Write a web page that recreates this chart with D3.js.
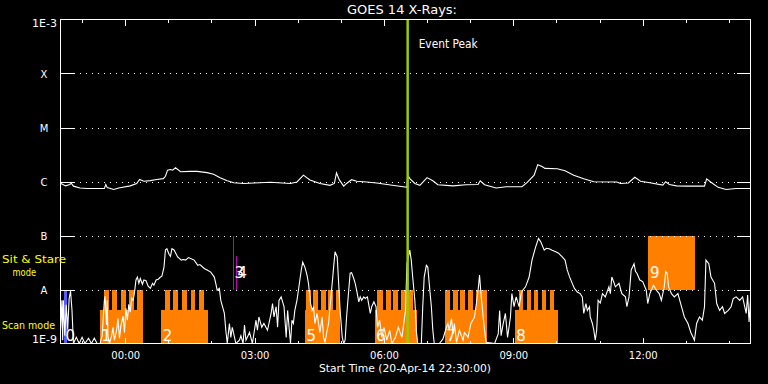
<!DOCTYPE html>
<html><head><meta charset="utf-8">
<script src="https://cdn.jsdelivr.net/npm/d3@7"></script>
<style>html,body{margin:0;padding:0;background:#000;} svg{display:block;}</style>
</head><body>
<svg id="c" width="768" height="384"></svg>
<script>
// ---------------- DATA ----------------
const startTime = Date.UTC(2014, 3, 20, 22, 30);   // 20-Apr-14 22:30:00
const durationMin = 960;
const eventPeakMin = 483;
const titleText = "GOES 14 X-Rays:";
const xAxisTitle = "Start Time (20-Apr-14 22:30:00)";
const levelLabels = ["1E-3", "X", "M", "C", "B", "A", "1E-9"];
const levelValues = [1e-3, 1e-4, 1e-5, 1e-6, 1e-7, 1e-8, 1e-9];
const gridLevels = [1e-4, 1e-5, 1e-6, 1e-7, 1e-8];

// long channel (1-8 A), minutes since start / W m^-2
const longT = [0,7,13,15,18,27,37,61,63,65,74,81,97,106,110,116,125,134,143,146,
  149,153,156,160,167,180,190,204,213,222,232,241,255,269,292,320,329,338,347,361,
  375,381,384,388,394,398,405,412,426,440,459,477,482,483,486,493,500,510,518,525,
  546,564,581,584,590,606,620,642,649,659,664,670,674,691,702,714,728,742,774,779,
  790,799,807,820,838,842,847,857,871,896,899,905,915,926,940,960];
const longF = [9.3e-7,8.3e-7,8.8e-7,9.3e-7,8.2e-7,7.6e-7,7.4e-7,7.4e-7,8.8e-7,7.7e-7,
  7.1e-7,7.6e-7,8.3e-7,9.2e-7,1.09e-6,1.01e-6,1.04e-6,1.09e-6,1.13e-6,1.25e-6,
  1.62e-6,1.67e-6,1.62e-6,1.80e-6,1.52e-6,1.54e-6,1.54e-6,1.46e-6,1.36e-6,1.17e-6,
  1.03e-6,9.5e-7,9.2e-7,9.4e-7,9.7e-7,9.2e-7,9.8e-7,1.31e-6,1.07e-6,9.2e-7,
  8.5e-7,9.2e-7,1.44e-6,1.07e-6,8.2e-7,9.2e-7,1.08e-6,1.01e-6,9.8e-7,9.4e-7,
  8.6e-7,8.0e-7,7.8e-7,1.31e-6,1.13e-6,9.2e-7,8.5e-7,1.18e-6,1.03e-6,8.7e-7,
  8.3e-7,8.7e-7,8.8e-7,1.03e-6,8.7e-7,7.6e-7,8.0e-7,8.0e-7,9.5e-7,1.31e-6,
  2.05e-6,1.9e-6,1.75e-6,1.72e-6,1.58e-6,1.31e-6,1.12e-6,9.9e-7,9.8e-7,9.2e-7,
  9.4e-7,1.2e-6,1.01e-6,9.5e-7,8.6e-7,9.9e-7,8.8e-7,8.3e-7,8.2e-7,8.2e-7,
  1.12e-6,9.7e-7,7.8e-7,7.1e-7,7.4e-7,7.4e-7];

// short channel (0.5-4 A)
const shortT = [0,2,3,4,6,8,10,12,14,16,18,22,26,30,34,39,43,47,51,55,
  58,61,62,64,65,66,68,71,73,75,78,80,82,84,87,89,91,93,95,97,
  99,101,103,105,107,109,111,114,116,119,122,125,128,130,133,136,139,141,144,146,
  148,151,153,155,158,163,168,171,174,178,181,186,191,194,200,204,209,214,216,218,
  221,223,226,228,230,232,235,237,239,244,249,251,254,256,258,263,267,272,274,276,
  280,283,288,293,295,297,300,302,304,307,309,311,314,316,318,320,322,324,326,329,
  332,335,337,340,343,345,348,350,352,354,357,359,361,364,366,368,371,373,375,378,
  380,382,385,387,389,392,394,396,398,401,403,405,408,410,412,415,417,419,422,424,
  427,431,433,436,439,441,444,447,450,454,458,461,466,470,475,480,482,486,488,490,
  493,495,497,502,504,506,509,511,513,516,518,520,527,532,537,539,541,544,546,548,
  551,555,560,562,567,571,576,578,581,583,585,588,590,592,604,609,611,613,616,619,
  622,626,628,631,634,638,641,643,647,652,656,661,665,668,673,676,680,684,689,693,
  698,702,705,708,712,715,719,723,726,728,731,733,736,737,740,742,744,746,748,751,
  754,758,763,765,767,770,772,777,781,786,788,791,794,798,800,802,806,810,815,817,
  820,825,829,833,836,840,842,844,846,850,854,859,864,868,873,877,882,885,889,893,
  896,898,902,905,910,913,917,921,924,929,933,936,940,945,949,954,956,958,960];
const shortF = [1.76e-9,6.3e-9,1.15e-9,6.3e-9,1.4e-9,5.2e-9,1.8e-9,6.8e-9,9.3e-9,4.1e-9,
  1.0e-9,1.3e-9,1.0e-9,1.3e-9,1.0e-9,1.25e-9,1.0e-9,1.25e-9,1.0e-9,1.0e-9,
  1.4e-9,6.3e-9,7.5e-9,2.2e-9,6.3e-9,1.35e-9,1.0e-9,1.35e-9,2.0e-9,1.15e-9,
  1.76e-9,2.9e-9,1.25e-9,2.1e-9,3.2e-9,1.6e-9,4.5e-9,2.7e-9,5.3e-9,3.8e-9,
  6.9e-9,6.3e-9,8.9e-9,1.5e-8,1.7e-8,1.3e-8,1.6e-8,1.25e-8,1.5e-8,1.45e-8,
  1.15e-8,1.05e-8,1.3e-8,1.2e-8,1.5e-8,1.55e-8,1.7e-8,1.75e-8,2.6e-8,5.4e-8,
  5.7e-8,4.5e-8,4.1e-8,5.7e-8,5.4e-8,4.0e-8,3.5e-8,3.6e-8,3.5e-8,3.9e-8,
  3.75e-8,3.5e-8,2.8e-8,2.9e-8,2.45e-8,2.3e-8,2.1e-8,1.7e-8,1.3e-8,9.7e-9,
  1.05e-8,6.3e-9,4.5e-9,3.6e-9,1.76e-9,1.0e-9,2.35e-9,1.3e-9,2.0e-9,1.0e-9,
  1.15e-9,1.4e-9,1.0e-9,2.2e-9,1.15e-9,1.6e-9,1.0e-9,2.7e-9,1.76e-9,3.1e-9,
  2.0e-9,2.35e-9,1.76e-9,3.6e-9,5.5e-9,3.1e-9,4.8e-9,2.0e-9,6.3e-9,7.3e-9,
  5.9e-9,4.8e-9,1.3e-9,4.1e-9,2.0e-9,1.0e-9,2.7e-9,2.35e-9,4.1e-9,6.3e-9,
  1.2e-8,2.3e-8,3.2e-8,2.6e-8,1.85e-8,1.3e-8,5.5e-9,4.1e-9,4.8e-9,2.35e-9,
  3.6e-9,2.35e-9,1.6e-9,3.1e-9,1.3e-9,1.05e-9,1.76e-9,2.35e-9,4.8e-9,1.3e-8,
  2.6e-8,5.0e-8,4.0e-8,1.3e-8,4.1e-9,1.3e-9,1.0e-9,1.15e-9,3.1e-9,9.7e-9,
  2.0e-8,2.05e-8,1.6e-8,1.3e-8,9.7e-9,5.9e-9,7.3e-9,6.3e-9,7.3e-9,6.8e-9,
  7.3e-9,3.6e-9,4.8e-9,5.9e-9,4.8e-9,2.0e-9,2.7e-9,1.3e-9,2.0e-9,1.15e-9,
  1.76e-9,1.0e-9,1.3e-9,2.0e-9,1.3e-9,4.1e-9,3.0e-8,5.35e-8,3.5e-8,1.7e-8,
  6.3e-9,1.76e-9,1.0e-9,1.0e-9,4.8e-9,1.7e-8,2.8e-8,2.6e-8,1.3e-8,4.8e-9,
  1.76e-9,1.0e-9,1.0e-9,1.2e-9,2.0e-9,2.35e-9,1.76e-9,2.9e-9,1.5e-9,2.35e-9,
  1.05e-9,1.76e-9,1.15e-9,1.6e-9,1.3e-9,2.35e-9,3.1e-9,4.8e-9,9.7e-9,1.85e-8,
  8.4e-9,3.1e-9,1.76e-9,1.05e-9,1.0e-9,1.5e-9,4.1e-9,1.4e-9,2.35e-9,3.6e-9,
  1.3e-9,3.1e-9,8.4e-9,4.8e-9,7.3e-9,4.8e-9,8.4e-9,9.7e-9,1.12e-8,1.7e-8,
  3.5e-8,6.1e-8,8.8e-8,7.7e-8,5.35e-8,5.8e-8,5.7e-8,5.35e-8,5.0e-8,4.7e-8,
  4.0e-8,3.5e-8,2.3e-8,1.75e-8,1.3e-8,1.05e-8,9.0e-9,8.4e-9,7.3e-9,3.6e-9,
  5.5e-9,4.1e-9,4.8e-9,3.1e-9,2.35e-9,1.76e-9,1.15e-9,1.76e-9,6.3e-9,5.6e-9,
  8.4e-9,7.3e-9,1.12e-8,8.4e-9,1.7e-8,1.35e-8,1.12e-8,1.3e-8,8.4e-9,7.3e-9,
  4.8e-9,7.3e-9,2.3e-8,3.0e-8,2.15e-8,2.0e-8,1.5e-8,1.4e-8,9.7e-9,5.5e-9,
  8.4e-9,1.2e-8,9.7e-9,8.4e-9,6.3e-9,1.12e-8,2.15e-8,2.0e-8,1.12e-8,8.4e-9,
  7.3e-9,8.4e-9,4.8e-9,3.1e-9,2.35e-9,1.6e-9,1.15e-9,2.35e-9,3.1e-9,2.7e-9,
  4.8e-9,3.5e-8,3.0e-8,1.7e-8,1.3e-8,5.5e-9,4.1e-9,4.8e-9,3.6e-9,4.1e-9,
  4.8e-9,6.8e-9,7.3e-9,6.3e-9,7.3e-9,3.6e-9,7.9e-9,2.5e-9,6.3e-9];

// IRIS observations (minutes since start)
const obsId    = [0, 1, 2, 3, 4, 5, 6, 7, 8, 9];
const obsStart = [5, 55, 140, 240, 244, 340, 437, 535, 632, 818];
const obsEnd   = [9, 115, 205, 241, 245, 389, 496, 594, 692, 883];
const obsMode  = ["scan","scan","scan","sit","sit","scan","scan","scan","scan","sit"];
const obsKind  = ["cal","raster","raster","line","lineShort","raster","raster","raster","raster","stare"];
// raster steps: [obs, start, end]
const rasterSteps = [
  [1,61,68],[1,72,79],[1,84,91],[1,95,102],[1,107,115],
  [2,146,152],[2,157,164],[2,169,176],[2,181,187],[2,192,199],
  [5,341,348],[5,351,358],[5,362,369],[5,372,379],[5,383,389],
  [6,441,449],[6,453,460],[6,463,470],[6,474,482],[6,484,491],
  [7,535,542],[7,546,553],[7,556,563],[7,567,574],[7,578,594],
  [8,638,644],[8,649,655],[8,659,665],[8,670,676],[8,681,687]
];
const modeLabels = [["Sit & Stare", "mode"], ["Scan mode"]];

// ---------------- DRAWING ----------------
const W = 768, H = 384;
const L = 60.5, R = 750.5, T = 19.5, B = 343.5;
const FONT = "DejaVu Sans, Liberation Sans, sans-serif";
const colors = {cal: "#5a5aff", raster: "#ff8000", line: "#c000c0", lineShort: "#c000c0", stare: "#ff8000"};
const bandRange = {scan: [1e-9, 1e-8], sit: [1e-8, 1e-7]};
const baseFrac = 0.62;

const toDate = m => new Date(startTime + m * 60000);
const x = d3.scaleUtc().domain([toDate(0), toDate(durationMin)]).range([L, R]);
const y = d3.scaleLog().domain([1e-9, 1e-3]).range([B, T]);

const svg = d3.select("#c");
svg.append("rect").attr("width", W).attr("height", H).attr("fill", "#000");

const defs = svg.append("defs");
defs.append("clipPath").attr("id", "plot").append("rect")
  .attr("x", L).attr("y", T).attr("width", R - L).attr("height", B - T);

// observation bars
const gObs = svg.append("g").attr("shape-rendering", "crispEdges");
const partTop = band => Math.pow(10, Math.log10(bandRange[band][0]) + baseFrac);
obsId.forEach((id, i) => {
  const band = obsMode[i], kind = obsKind[i];
  const x0 = Math.round(x(toDate(obsStart[i])));
  const x1 = Math.max(x0 + 1, Math.round(x(toDate(obsEnd[i]))));
  const top = (kind === "raster" || kind === "lineShort") ? partTop(band) : bandRange[band][1];
  gObs.append("rect").attr("x", x0).attr("width", x1 - x0)
    .attr("y", y(top)).attr("height", y(bandRange[band][0]) - y(top))
    .attr("fill", colors[kind]);
});
rasterSteps.forEach(([id, s, e]) => {
  const band = obsMode[id];
  const x0 = Math.round(x(toDate(s))), x1 = Math.round(x(toDate(e)));
  gObs.append("rect").attr("x", x0).attr("width", x1 - x0)
    .attr("y", y(bandRange[band][1])).attr("height", y(bandRange[band][0]) - y(bandRange[band][1]))
    .attr("fill", colors.raster);
});

// grid lines
const gGrid = svg.append("g").attr("shape-rendering", "crispEdges");
gridLevels.forEach(v => {
  const yy = Math.round(y(v)) + 0.5;
  gGrid.append("line").attr("x1", L).attr("x2", R).attr("y1", yy).attr("y2", yy)
    .attr("stroke", "#fff").attr("stroke-width", 1)
    .attr("stroke-dasharray", "1 5").attr("stroke-dashoffset", 5);
  gGrid.append("line").attr("x1", L).attr("x2", L + 14).attr("y1", yy).attr("y2", yy).attr("stroke", "#fff");
  gGrid.append("line").attr("x1", R - 14).attr("x2", R).attr("y1", yy).attr("y2", yy).attr("stroke", "#fff");
});

// curves
const line = d3.line().x(d => x(toDate(d[0]))).y(d => y(Math.max(d[1], 1e-9)));
const gCurves = svg.append("g").attr("clip-path", "url(#plot)");
gCurves.append("path").datum(longT.map((t, i) => [t, longF[i]]))
  .attr("d", line).attr("fill", "none").attr("stroke", "#fff").attr("stroke-width", 1.1);
gCurves.append("path").datum(shortT.map((t, i) => [t, shortF[i]]))
  .attr("d", line).attr("fill", "none").attr("stroke", "#fff").attr("stroke-width", 1.1);

// observation numbers
obsId.forEach((id, i) => {
  const band = obsMode[i];
  const base = band === "scan" ? y(bandRange.scan[0]) - 3 : y(bandRange.sit[0]) - 11.5;
  svg.append("text").attr("x", x(toDate(obsStart[i])) + 1.5).attr("y", base)
    .attr("fill", "#fff").attr("font-family", FONT).attr("font-size", 15)
    .text(id);
});

// event peak
const xp = x(toDate(eventPeakMin));
svg.append("line").attr("x1", xp).attr("x2", xp).attr("y1", T).attr("y2", B)
  .attr("stroke", "#99cc00").attr("stroke-width", 2.5);
svg.append("text").attr("x", xp + 11).attr("y", 48).attr("fill", "#fff")
  .attr("font-family", FONT).attr("font-size", 12).attr("textLength", 59)
  .attr("lengthAdjust", "spacingAndGlyphs").text("Event Peak");

// frame
svg.append("rect").attr("x", L).attr("y", T).attr("width", R - L).attr("height", B - T)
  .attr("fill", "none").attr("stroke", "#fff").attr("shape-rendering", "crispEdges");

// time axes
const fmt = d3.utcFormat("%H:%M");
const major = d3.utcHour.every(3), minor = d3.utcHour.every(1);
function axisStyle(g) {
  g.select(".domain").remove();
  g.selectAll("line").attr("stroke", "#fff").attr("shape-rendering", "crispEdges");
  g.selectAll("text").attr("fill", "#fff").attr("font-family", FONT).attr("font-size", 10);
}
svg.append("g").attr("transform", `translate(0,${B})`)
  .call(d3.axisBottom(x).ticks(minor).tickSize(-3).tickFormat("")).call(axisStyle);
svg.append("g").attr("transform", `translate(0,${B})`)
  .call(d3.axisBottom(x).ticks(major).tickSize(-6).tickPadding(8).tickFormat(fmt)).call(axisStyle);
svg.append("g").attr("transform", `translate(0,${T})`)
  .call(d3.axisTop(x).ticks(minor).tickSize(-3).tickFormat("")).call(axisStyle);
svg.append("g").attr("transform", `translate(0,${T})`)
  .call(d3.axisTop(x).ticks(major).tickSize(-6).tickFormat("")).call(axisStyle);

// y labels
levelLabels.forEach((lab, i) => {
  const v = levelValues[i];
  const t = svg.append("text").attr("fill", "#fff").attr("font-family", FONT).attr("font-size", 10);
  if (lab.startsWith("1E")) {
    const yy = i === 0 ? y(v) + 7.5 : y(v) - 0.5;
    t.attr("x", 57).attr("y", yy).attr("text-anchor", "end")
      .attr("textLength", 25).attr("lengthAdjust", "spacingAndGlyphs").text(lab);
  } else {
    t.attr("x", 44).attr("y", y(v) + 4).attr("text-anchor", "middle").text(lab);
  }
});

// mode labels
const yl = svg.append("g").attr("fill", "#ffff00").attr("font-family", FONT).attr("font-size", 10);
yl.append("text").attr("x", 2).attr("y", 263).attr("textLength", 64)
  .attr("lengthAdjust", "spacingAndGlyphs").text(modeLabels[0][0]);
yl.append("text").attr("x", 12.5).attr("y", 275.5).attr("textLength", 23.5)
  .attr("lengthAdjust", "spacingAndGlyphs").text(modeLabels[0][1]);
yl.append("text").attr("x", 2).attr("y", 328.5).attr("textLength", 53)
  .attr("lengthAdjust", "spacingAndGlyphs").text(modeLabels[1][0]);

// titles
svg.append("text").attr("x", 402).attr("y", 14).attr("text-anchor", "middle")
  .attr("fill", "#fff").attr("font-family", FONT).attr("font-size", 12)
  .attr("textLength", 110).attr("lengthAdjust", "spacingAndGlyphs").text(titleText);
svg.append("text").attr("x", 405).attr("y", 372).attr("text-anchor", "middle")
  .attr("fill", "#fff").attr("font-family", FONT).attr("font-size", 10.5)
  .attr("textLength", 172).attr("lengthAdjust", "spacingAndGlyphs").text(xAxisTitle);
</script>
</body></html>
